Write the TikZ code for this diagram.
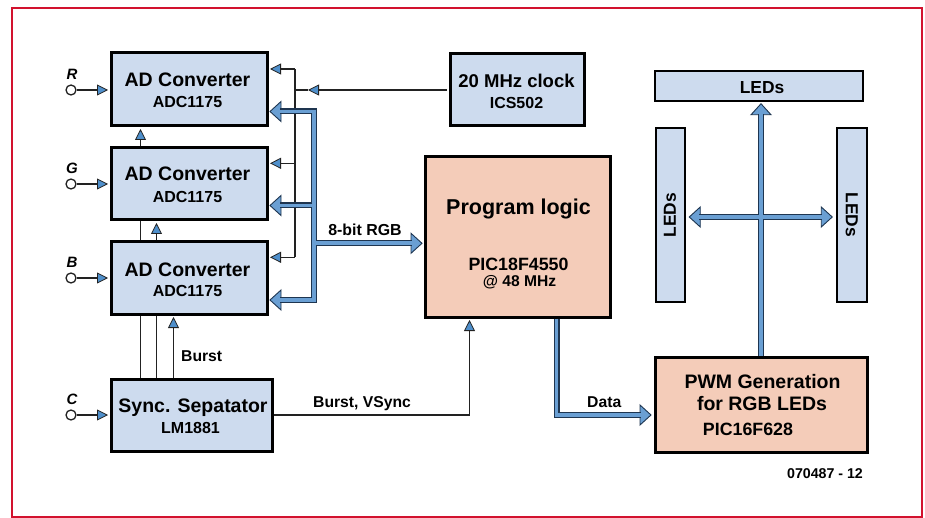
\documentclass[tikz,border=0pt]{standalone}
\usepackage{fontspec}
\setmainfont{Liberation Sans}
\usetikzlibrary{arrows.meta,calc}
\definecolor{framered}{HTML}{D2122E}
\definecolor{boxblue}{HTML}{CDDBEE}
\definecolor{salmon}{HTML}{F4CCB9}
\definecolor{tipblue}{HTML}{4F8FCB}
\definecolor{busblue}{HTML}{6A9FD3}
\definecolor{busedge}{HTML}{1E3550}
\definecolor{wire}{HTML}{222222}
\begin{document}
\begin{tikzpicture}[x=1pt,y=-1pt,
  blk/.style={draw=black, line width=3pt, fill=boxblue, inner sep=0pt},
  pblk/.style={draw=black, line width=3pt, fill=salmon, inner sep=0pt},
  ledblk/.style={draw=black, line width=2.5pt, fill=boxblue, inner sep=0pt},
  tx/.style={font=\bfseries\fontsize{#1}{#1}\selectfont, inner sep=0pt, anchor=base},
  txl/.style={font=\bfseries\fontsize{#1}{#1}\selectfont, inner sep=0pt, anchor=base west},
  inlab/.style={font=\bfseries\itshape\fontsize{15}{15}\selectfont, inner sep=0pt, anchor=base},
  incirc/.style={circle, draw=wire, fill=white, line width=1.3pt, minimum size=10pt, inner sep=0pt},
  wline/.style={draw=wire, line width=1.4pt},
  warr/.style={draw=wire, line width=1.4pt, -{Triangle[length=11pt,width=11pt,fill=tipblue,line width=0.8pt]}},
  bus/.style={draw=busblue, line width=3.6pt, line join=miter, preaction={draw=busedge, line width=6pt, line join=miter}},
  bustip/.pic={\draw[draw=busedge, fill=busblue, line width=0.9pt, line join=miter] (0,0) -- (-11,10) -- (-11,-10) -- cycle;}
]
\useasboundingbox (0,0) rectangle (925,518);
\draw[draw=framered, line width=2pt] (12,8) rectangle (922,517);

% blocks
\node[blk, minimum width=156pt, minimum height=73pt] (adR) at (189,89.5) {};
\node[blk, minimum width=156pt, minimum height=72pt] (adG) at (189,184) {};
\node[blk, minimum width=156pt, minimum height=72pt] (adB) at (189,278) {};
\node[blk, minimum width=161pt, minimum height=72pt] (sync) at (191.5,415) {};
\node[blk, minimum width=134pt, minimum height=72pt] (clk) at (517,90) {};
\node[pblk, minimum width=185pt, minimum height=160pt] (prog) at (517.5,237) {};
\node[pblk, minimum width=212pt, minimum height=95pt] (pwm) at (761,404.5) {};
\node[ledblk, minimum width=208pt, minimum height=30pt] (ledT) at (759,86) {};
\node[ledblk, minimum width=29pt, minimum height=174pt] (ledL) at (670.5,215) {};
\node[ledblk, minimum width=30pt, minimum height=174pt] (ledR) at (852,215) {};

% texts
\node[tx=19.5] (adRt) at (187.5,87) {AD Converter};
\node[tx=16] (adRs) at (187.5,108) {ADC1175};
\node[tx=19.5] (adGt) at (187.5,180.5) {AD Converter};
\node[tx=16] (adGs) at (187.5,202.4) {ADC1175};
\node[tx=19.5] (adBt) at (187.5,276.3) {AD Converter};
\node[tx=16] (adBs) at (187.5,296.4) {ADC1175};
\node[tx=19.5] (synct) at (193,412.7) {Sync. Sepatator};
\node[tx=16] (syncs) at (190.5,433.3) {LM1881};
\node[tx=18.5] (clkt) at (516.5,87.3) {20 MHz clock};
\node[tx=16] (clks) at (516.5,108.3) {ICS502};
\node[tx=21.5] (progt) at (518.5,215) {Program logic};
\node[tx=17.8] (progs) at (518.5,270.7) {PIC18F4550};
\node[tx=15.6] (progf) at (519.5,286.7) {@ 48 MHz};
\node[tx=19.5] (pwmt) at (762.5,388.3) {PWM Generation};
\node[tx=19.5] (pwmu) at (762,410) {for RGB LEDs};
\node[tx=17.8] (pwms) at (748,435) {PIC16F628};
\node[tx=17.4] (ledTt) at (762,94) {LEDs};
\node[font=\bfseries\fontsize{17.4}{17.4}\selectfont, inner sep=0pt, rotate=90] (ledLt) at (670,215) {LEDs};
\node[font=\bfseries\fontsize{17.4}{17.4}\selectfont, inner sep=0pt, rotate=-90] (ledRt) at (851.7,215) {LEDs};
\node[tx=14.2] (fig) at (825,478.3) {070487 - 12};

% inputs
\node[incirc] (inR) at (71,90) {};
\node[incirc] (inG) at (71,184) {};
\node[incirc] (inB) at (71,278) {};
\node[incirc] (inC) at (71,415) {};
\node[inlab] (labR) at (72,80) {R};
\node[inlab] (labG) at (72,173.3) {G};
\node[inlab] (labB) at (72,267.3) {B};
\node[inlab] (labC) at (72,404.3) {C};
\draw[warr, shorten >=1.5pt] (inR) -- (inR -| adR.west);
\draw[warr, shorten >=1.5pt] (inG) -- (inG -| adG.west);
\draw[warr, shorten >=1.5pt] (inB) -- (inB -| adB.west);
\draw[warr, shorten >=1.5pt] (inC) -- (inC -| sync.west);

% vertical links between converters
\coordinate (v1) at ($(adG.north west)+(31,0)$);
\coordinate (v2) at ($(adG.north west)+(47,0)$);
\coordinate (v3) at ($(adG.north west)+(64,0)$);
\draw[warr, shorten >=1.5pt] (v1) -- (v1 |- adR.south);
\draw[wline] (v1 |- adB.north) -- (v1 |- adG.south);
\draw[warr, shorten >=1.5pt] (v2 |- adB.north) -- (v2 |- adG.south);
\draw[wline] (v1 |- sync.north) -- (v1 |- adB.south);
\draw[wline] (v2 |- sync.north) -- (v2 |- adB.south);
\draw[warr, shorten >=1.5pt] (v3 |- sync.north) -- (v3 |- adB.south);
\node[txl=15.7] (burst) at (181,361) {Burst};

% clock distribution
\coordinate (cx) at (295,0);
\coordinate (cR) at ($(adR.east)+(1.5,-20.5)$);
\coordinate (cG) at ($(adG.east)+(1.5,-20.7)$);
\coordinate (cB) at ($(adB.east)+(1.5,-20.7)$);
\coordinate (cj) at (cx |- clk.west);
\coordinate (cjm) at ($(cj)+(13,0)$);
\draw[wline] (cjm) -- (cj);
\draw[warr, shorten <=1.5pt] (clk.west) -- (cjm);
\draw[wline] (cR -| cx) -- (cB -| cx);
\draw[warr] (cR -| cx) -- (cR);
\draw[warr] (cG -| cx) -- (cG);
\draw[warr] (cB -| cx) -- (cB);

% Burst, VSync
\coordinate (bv) at ($(prog.south west)+(46,0)$);
\draw[warr, shorten >=1.5pt] (sync.east) -| (bv);
\node[txl=15.7] (bvlab) at (313,407.5) {Burst, VSync};

% RGB bus
\coordinate (bx) at (314,0);
\coordinate (tR) at ($(adR.east)+(1.5,22)$);
\coordinate (tG) at ($(adG.east)+(1.5,21.5)$);
\coordinate (tB) at ($(adB.east)+(1.5,22)$);
\coordinate (t8) at ($(prog.west)+(-1.5,6.3)$);
\pic[rotate=180] at (tR) {bustip};
\pic[rotate=180] at (tG) {bustip};
\pic[rotate=180] at (tB) {bustip};
\pic at (t8) {bustip};
\draw[bus] ($(tR)+(10,0)$) -- (tR -| bx) -- (tB -| bx) -- ($(tB)+(10,0)$)
  ($(tG)+(10,0)$) -- (tG -| bx)
  (t8 -| bx) -- ($(t8)+(-10,0)$);
\node[tx=15.9] (rgblab) at (365,236) {8-bit RGB};

% Data bus
\coordinate (dS) at ($(prog.south west)+(133,0)$);
\coordinate (tD) at ($(pwm.west)+(-2.5,10.5)$);
\pic at (tD) {bustip};
\draw[bus] (dS) -- (dS |- tD) -- ($(tD)+(-10,0)$);
\node[txl=15.7] (datalab) at (587,407.5) {Data};

% LED buses
\coordinate (tT) at ($(pwm.north |- ledT.south)+(0,1.5)$);
\coordinate (tL) at ($(ledL.east)+(3,2)$);
\coordinate (tRr) at ($(ledR.west)+(-3.5,2)$);
\pic[rotate=90] at (tT) {bustip};
\pic[rotate=180] at (tL) {bustip};
\pic at (tRr) {bustip};
\draw[bus] (pwm.north) -- ($(tT)+(0,10)$)
  ($(tL)+(10,0)$) -- ($(tRr)+(-10,0)$);
\end{tikzpicture}
\end{document}
